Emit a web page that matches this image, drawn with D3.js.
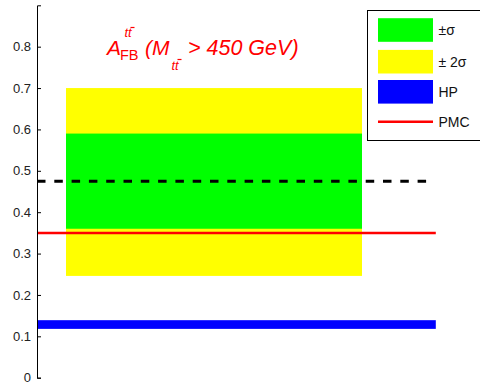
<!DOCTYPE html>
<html>
<head>
<meta charset="utf-8">
<script src="https://cdn.jsdelivr.net/npm/d3@7"></script>
<style>
  html, body { margin: 0; padding: 0; background: #fff; }
  svg { display: block; font-family: "Liberation Sans", Arial, sans-serif; }
</style>
</head>
<body>
<svg id="chart" width="480" height="386"></svg>
<script>
// Asymmetry bands and reference lines
const yTicks = [0, 0.1, 0.2, 0.3, 0.4, 0.5, 0.6, 0.7, 0.8];
const twoSigma = [0.246, 0.70];      // ±2σ band
const oneSigma = [0.36, 0.59];       // ±σ band
const hpBand = [0.118, 0.139];       // HP prediction
const pmcValue = 0.35;               // PMC prediction
const dashedValue = 0.475;           // central measured value
const bandSpan = [0.0725, 0.8125];   // horizontal extent of the bands
const lineSpan = [0, 0.997];         // horizontal extent of HP / PMC lines
const dashedSpan = [0, 0.98];

const legendLabels = ["\u00B1\u03C3", "\u00B1 2\u03C3", "HP", "PMC"];
const legendColors = ["#00ff00", "#ffff00", "#0000ff", "#ff0000"];

const svg = d3.select("#chart");
const x = d3.scaleLinear().domain([0, 1]).range([37, 437]);
const y = d3.scaleLinear().domain([0, 0.9]).range([377.7, 5.3]);

// bands
svg.append("rect")
  .attr("x", x(bandSpan[0])).attr("width", x(bandSpan[1]) - x(bandSpan[0]))
  .attr("y", y(twoSigma[1])).attr("height", y(twoSigma[0]) - y(twoSigma[1]))
  .attr("fill", "#ffff00");
svg.append("rect")
  .attr("x", x(bandSpan[0])).attr("width", x(bandSpan[1]) - x(bandSpan[0]))
  .attr("y", y(oneSigma[1])).attr("height", y(oneSigma[0]) - y(oneSigma[1]))
  .attr("fill", "#00ff00");

// HP band
svg.append("rect")
  .attr("x", x(lineSpan[0])).attr("width", x(lineSpan[1]) - x(lineSpan[0]))
  .attr("y", y(hpBand[1])).attr("height", y(hpBand[0]) - y(hpBand[1]))
  .attr("fill", "#0000ff");

// PMC line
svg.append("line")
  .attr("x1", x(lineSpan[0])).attr("x2", x(lineSpan[1]))
  .attr("y1", y(pmcValue)).attr("y2", y(pmcValue))
  .attr("stroke", "#ff0000").attr("stroke-width", 2.5);

// dashed central value
svg.append("line")
  .attr("x1", x(dashedSpan[0])).attr("x2", x(dashedSpan[1]))
  .attr("y1", y(dashedValue)).attr("y2", y(dashedValue))
  .attr("stroke", "#000").attr("stroke-width", 3)
  .attr("stroke-dasharray", "8.5,8.8");

// y axis with inward ticks
const axis = d3.axisLeft(y)
  .tickValues(yTicks)
  .tickFormat(d => d === 0 ? "0" : d3.format(".1f")(d))
  .tickSizeInner(-4).tickSizeOuter(-4).tickPadding(6);
const gAxis = svg.append("g").attr("transform", `translate(${x(0)},0)`).call(axis);
gAxis.select(".domain").attr("stroke", "#000").attr("stroke-width", 1);
gAxis.selectAll(".tick line").attr("stroke", "#000");
gAxis.selectAll(".tick text")
  .attr("font-family", "Liberation Sans, Arial, sans-serif")
  .attr("font-size", 13).attr("fill", "#222");

// title: A_FB^{tt̄} (M_{tt̄} > 450 GeV)
const title = svg.append("g").attr("fill", "#ff0000")
  .attr("font-style", "italic").attr("font-family", "Liberation Sans, Arial, sans-serif");
title.append("text").attr("x", 107).attr("y", 54.5).attr("font-size", 21).text("A");
title.append("text").attr("x", 124.5).attr("y", 37).attr("font-size", 13).text("tt");
title.append("line").attr("x1", 130.5).attr("x2", 134.5).attr("y1", 27.5).attr("y2", 27.5)
  .attr("stroke", "#ff0000").attr("stroke-width", 1.2);
title.append("text").attr("x", 120).attr("y", 60).attr("font-size", 14.5).attr("font-style", "normal").text("FB");
title.append("text").attr("x", 145).attr("y", 54.5).attr("font-size", 21).text("(M");
title.append("text").attr("x", 171.5).attr("y", 69.5).attr("font-size", 13).text("tt");
title.append("line").attr("x1", 177.5).attr("x2", 181.5).attr("y1", 59.5).attr("y2", 59.5)
  .attr("stroke", "#ff0000").attr("stroke-width", 1.2);
title.append("text").attr("x", 188).attr("y", 54.5).attr("font-size", 21.5).text("> 450 GeV)");

// legend
const legend = svg.append("g");
legend.append("rect")
  .attr("x", 367.5).attr("y", 10.5).attr("width", 130).attr("height", 130)
  .attr("fill", "#fff").attr("stroke", "#000").attr("stroke-width", 1);
const rowY = [30, 61.7, 91.8, 121.7];
legendLabels.forEach((lab, i) => {
  if (i < 3) {
    legend.append("rect").attr("x", 378).attr("y", rowY[i] - 11.8)
      .attr("width", 55).attr("height", 23.6).attr("fill", legendColors[i]);
  } else {
    legend.append("line").attr("x1", 378).attr("x2", 433)
      .attr("y1", rowY[i]).attr("y2", rowY[i])
      .attr("stroke", legendColors[i]).attr("stroke-width", 2.5);
  }
  legend.append("text").attr("x", 438.5).attr("y", rowY[i] + 5)
    .attr("font-size", 14).attr("fill", "#111").text(lab);
});
</script>
</body>
</html>
